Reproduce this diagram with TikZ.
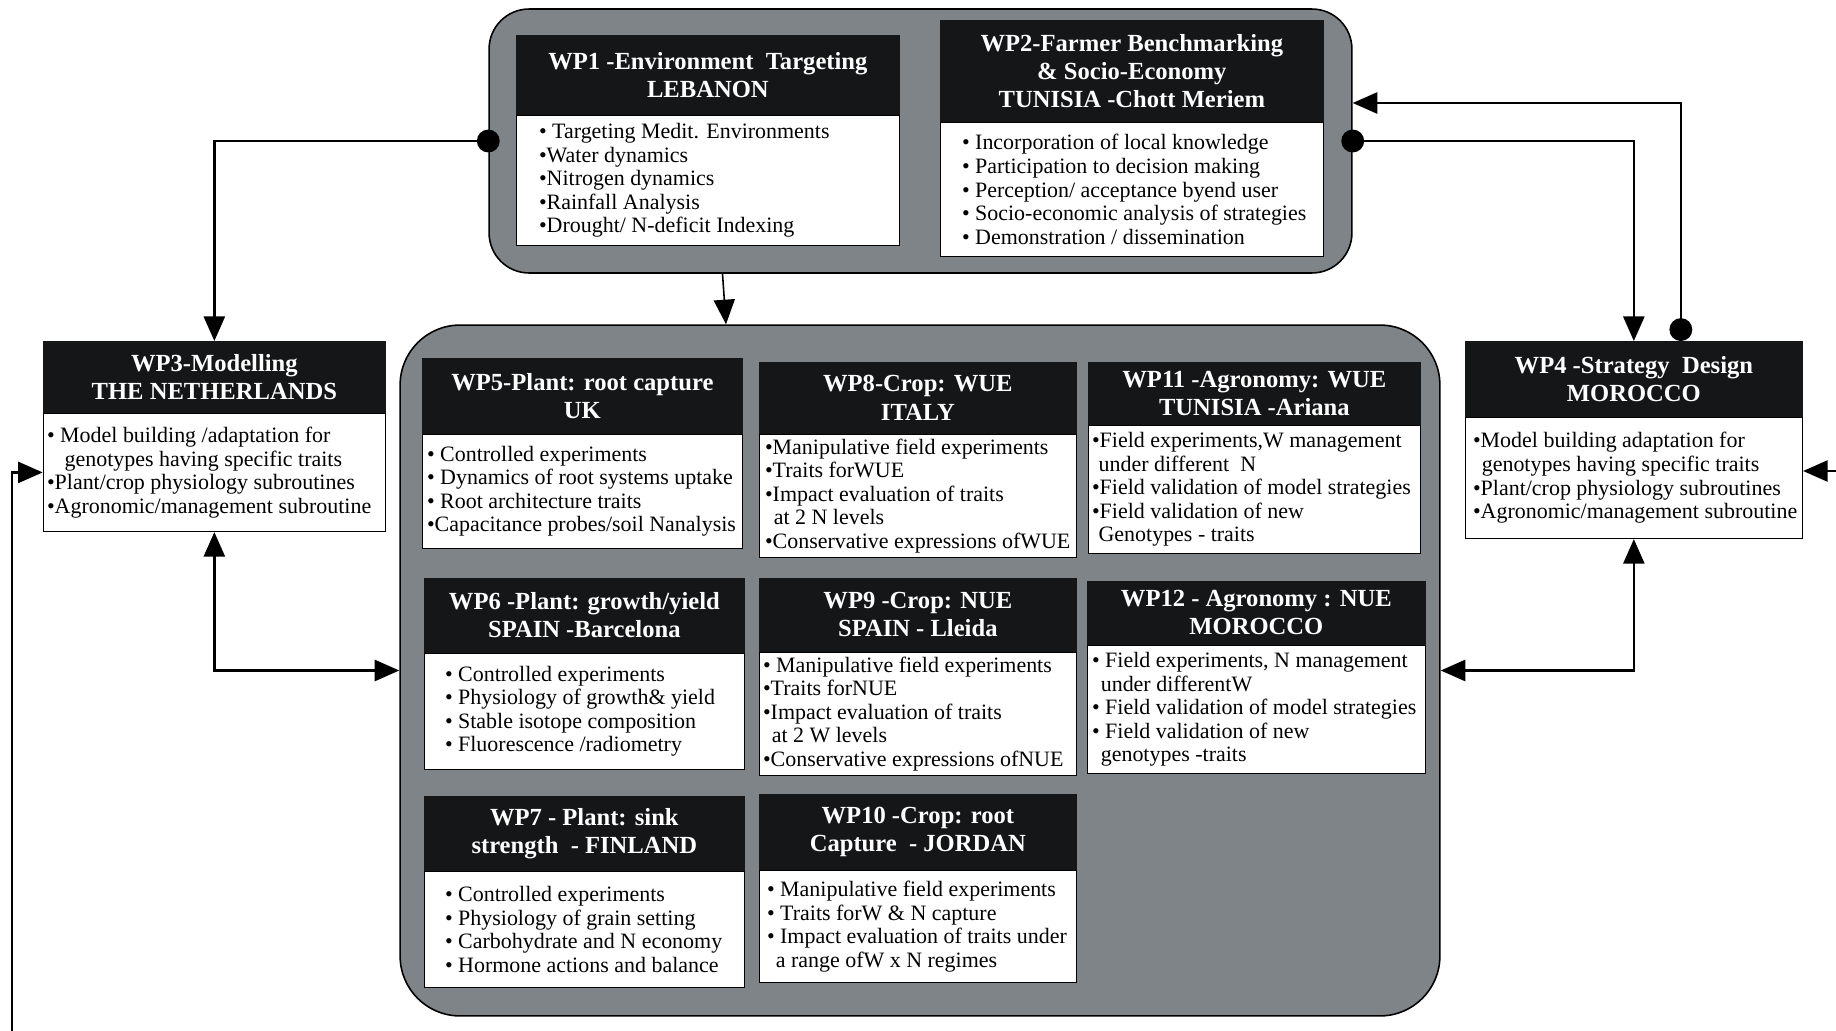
\documentclass[tikz,border=0pt]{standalone}
\usepackage{fontspec}
\setmainfont{Liberation Serif}
\usetikzlibrary{arrows.meta}
\usetikzlibrary{positioning}
\usetikzlibrary{calc}

\definecolor{wpgray}{RGB}{126,132,135}
\definecolor{wpblack}{RGB}{21,22,23}

\tikzset{
  group/.style={draw=black, line width=0.9pt, fill=wpgray, rounded corners=0.8cm, inner sep=0pt},
  wphead/.style={anchor=north west, fill=wpblack, draw=wpblack, text=white, align=center, inner sep=0pt,
    font=\fontsize{14pt}{16pt}\selectfont\bfseries},
  wpbody/.style={draw=black, line width=0.8pt, fill=white, inner sep=0pt},
  wptext/.style={anchor=west, align=left, inner sep=0pt, font=\fontsize{12.5pt}{13.4pt}\selectfont},
  link/.style={draw=black, line width=1.4pt},
  thinlink/.style={draw=black, line width=0.9pt},
  >={Triangle[length=14pt, width=12pt]}
}

\newcommand{\wpbox}[9]{%
  \pgfmathsetmacro\wpw{#4*0.02}%
  \pgfmathsetmacro\wpin{#9*0.02}%
  \node[wphead, minimum width=\wpw cm, minimum height={#5*0.02cm}] (#1h) at (#2,#3) {#7};
  \node[wpbody, minimum width=\wpw cm, minimum height={#6*0.02cm}, below=0pt of #1h] (#1b) {};
  \node[wptext] (#1t) at ([xshift=\wpin cm]#1b.west) {#8};
}

\begin{document}
\begin{tikzpicture}[x=0.02cm, y=-0.02cm]
    \useasboundingbox (0,0) rectangle (1836,1031);

    \node[group, minimum width=17.26cm, minimum height=5.28cm] (envgrp) at (920.5,141) {};
    \node[group, rounded corners=1.2cm, minimum width=20.8cm, minimum height=13.82cm] (cropgrp) at (920,670.5) {};

    \wpbox{wp1}{516}{35}{383}{79}{130}{WP1 -Environment\ \ Targeting\\LEBANON}
      {• Targeting Medit. Environments\\•Water dynamics\\•Nitrogen dynamics\\•Rainfall Analysis\\•Drought/ N-deficit Indexing}{23}
    \wpbox{wp2}{940}{20}{383}{101}{134}{WP2-Farmer Benchmarking\\\& Socio-Economy\\TUNISIA -Chott Meriem}
      {• Incorporation of local knowledge\\• Participation to decision making\\• Perception/ acceptance byend user\\• Socio-economic analysis of strategies\\• Demonstration / dissemination}{22}

    \wpbox{wp3}{43}{341}{342}{71}{118}{WP3-Modelling\\THE NETHERLANDS}
      {• Model building /adaptation for\\\hspace*{0.8em}genotypes having specific traits\\•Plant/crop physiology subroutines\\•Agronomic/management subroutine}{4}
    \wpbox{wp4}{1465}{341}{337}{75}{121}{WP4 -Strategy\ \ Design\\MOROCCO}
      {•Model building adaptation for\\\hspace*{0.4em}genotypes having specific traits\\•Plant/crop physiology subroutines\\•Agronomic/management subroutine}{8}

    \wpbox{wp5}{422}{358}{320}{75}{114}{WP5-Plant: root capture\\UK}
      {• Controlled experiments\\• Dynamics of root systems uptake\\• Root architecture traits\\•Capacitance probes/soil Nanalysis}{5}
    \wpbox{wp8}{759}{362}{317}{71}{123}{WP8-Crop: WUE\\ITALY}
      {•Manipulative field experiments\\•Traits forWUE\\•Impact evaluation of traits\\\hspace*{0.4em}at 2 N levels\\•Conservative expressions ofWUE}{6}
    \wpbox{wp11}{1088}{362}{332}{62}{128}{WP11 -Agronomy: WUE\\TUNISIA -Ariana}
      {•Field experiments,W management\\\hspace*{0.3em}under different\ \ N\\•Field validation of model strategies\\•Field validation of new\\\hspace*{0.3em}Genotypes - traits}{4}

    \wpbox{wp6}{424}{578}{320}{74}{116}{WP6 -Plant: growth/yield\\SPAIN -Barcelona}
      {• Controlled experiments\\• Physiology of growth\& yield\\• Stable isotope composition\\• Fluorescence /radiometry}{21}
    \wpbox{wp9}{759}{578}{317}{73}{123}{WP9 -Crop: NUE\\SPAIN - Lleida}
      {• Manipulative field experiments\\•Traits forNUE\\•Impact evaluation of traits\\\hspace*{0.4em}at 2 W levels\\•Conservative expressions ofNUE}{4}
    \wpbox{wp12}{1087}{581}{338}{63}{128}{WP12 - Agronomy : NUE\\MOROCCO}
      {• Field experiments, N management\\\hspace*{0.4em}under differentW\\• Field validation of model strategies\\• Field validation of new\\\hspace*{0.4em}genotypes -traits}{5}

    \wpbox{wp7}{424}{796}{320}{74}{116}{WP7 - Plant: sink\\strength\ \ - FINLAND}
      {• Controlled experiments\\• Physiology of grain setting\\• Carbohydrate and N economy\\• Hormone actions and balance}{21}
    \wpbox{wp10}{759}{794}{317}{75}{112}{WP10 -Crop: root\\Capture\ \ - JORDAN}
      {• Manipulative field experiments\\• Traits forW \& N capture\\• Impact evaluation of traits under\\\hspace*{0.4em}a range ofW x N regimes}{8}

    \coordinate (lfoot) at (12,1031);
    \coordinate (rfoot) at (1836,471);

    \draw[link, {Circle[length=13pt]}->, shorten <=-6.5pt] (envgrp.west) -| (wp3h.north);
    \draw[link, <->] (wp3b.south) |- (cropgrp.west);
    \draw[link, ->] (lfoot) |- (wp3b.west);
    \draw[link, {Circle[length=13pt]}->, shorten <=-6.5pt] (envgrp.east) -| (wp4h.north);
    \draw[link, {Circle[length=13pt]}->] ($(wp4h.north)+(47,0)$) |- ($(envgrp.east)+(0,-38)$);
    \draw[link, <->] (wp4b.south) |- (cropgrp.east);
    \draw[link, ->] (rfoot) -- (rfoot -| wp4b.east);
    \draw[thinlink, ->] ($(envgrp.south)+(-198,0)$) -- ($(cropgrp.north)+(-194,0)$);
\end{tikzpicture}
\end{document}
